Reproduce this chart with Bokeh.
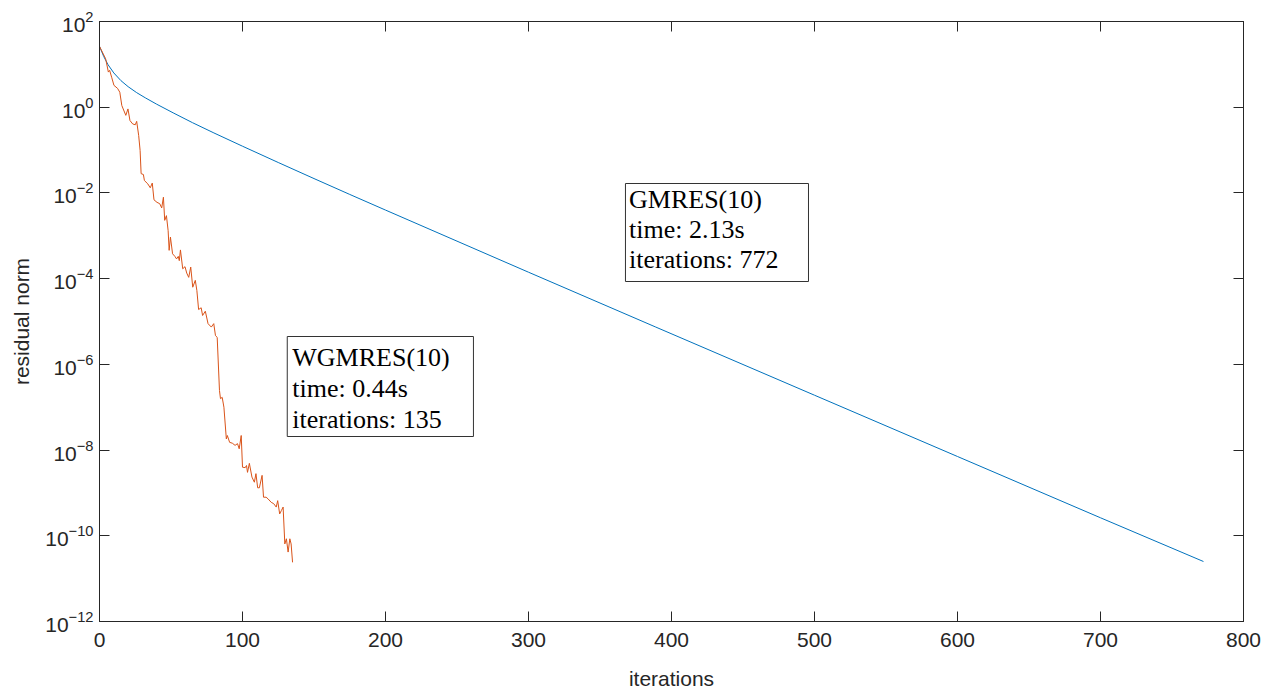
import numpy as np
from bokeh.plotting import figure
from bokeh.models import (LinearAxis, LogAxis, FixedTicker, BoxAnnotation, Label,
                          CustomJSTickFormatter)
from bokeh.embed import file_html
from bokeh.resources import INLINE

# ---------------- data ----------------
x_ticks = [0, 100, 200, 300, 400, 500, 600, 700, 800]
y_ticks = [1e-12, 1e-10, 1e-8, 1e-6, 1e-4, 1e-2, 1e0, 1e2]

# GMRES(10): iteration, log10(residual norm)
gmres_iter = [0, 3, 6, 10, 15, 20, 26, 32, 40, 52, 65, 80, 100, 125, 150,
              175, 200, 250, 300, 389, 500, 600, 700, 772]
gmres_log10_res = [1.42, 1.18, 0.99, 0.80, 0.62, 0.48, 0.34, 0.22, 0.07, -0.14,
                   -0.36, -0.60, -0.91, -1.29, -1.665, -2.035, -2.40, -3.125, -3.85,
                   -5.13, -6.72, -8.15, -9.58, -10.60]

# WGMRES(10): iteration, log10(residual norm)
wgmres_iter = [0, 4.3, 6.2, 7.1, 8.5, 10.1, 12.6, 14.2, 15.6, 18.4, 19.9, 21.3,
               23.2, 25.0, 26.0, 27.4, 28.4, 29.1, 30.7, 31.4, 33.8, 35.5, 36.9,
               38.1, 40.2, 42.1, 43.5, 44.7, 45.6, 46.8, 48.0, 48.7, 49.6, 51.1,
               52.7, 53.9, 55.1, 55.8, 56.6, 58.2, 59.8, 61.0, 62.4, 63.8, 65.2,
               67.0, 68.1, 69.3, 71.1, 72.1, 74.0, 75.9, 78.2, 79.9, 81.1, 82.3,
               83.9, 84.6, 85.8, 87.0, 88.7, 89.4, 91.0, 92.9, 94.8, 96.5, 97.7,
               99.1, 100.0, 101.9, 102.8, 103.5, 104.8, 106.6, 108.3, 109.4,
               110.6, 111.8, 113.7, 114.7, 116.5, 117.9, 120.1, 121.8, 123.6,
               124.6, 126.0, 127.2, 128.4, 129.6, 130.7, 131.9, 133.1, 134.0, 135.0]
wgmres_log10_res = [1.42, 1.13, 0.82, 0.86, 0.70, 0.51, 0.44, 0.35, 0.04, -0.19,
                    -0.04, -0.31, -0.39, -0.41, -0.33, -0.66, -1.01, -1.55, -1.57,
                    -1.71, -1.79, -1.88, -1.77, -2.16, -2.22, -2.25, -2.35, -2.10,
                    -2.64, -2.53, -2.88, -3.34, -3.03, -3.42, -3.48, -3.54, -3.48,
                    -3.58, -3.33, -3.77, -3.72, -3.87, -3.97, -3.73, -4.20, -4.04,
                    -4.28, -4.72, -4.68, -4.86, -4.76, -5.05, -5.13, -5.05, -5.33,
                    -5.37, -6.61, -6.80, -6.77, -7.00, -7.74, -7.66, -7.82, -7.84,
                    -7.89, -7.85, -7.97, -7.66, -8.40, -8.41, -8.36, -8.52, -8.31,
                    -8.63, -8.75, -8.55, -8.88, -8.88, -8.59, -9.10, -9.10, -9.14,
                    -9.22, -9.25, -9.33, -9.18, -9.49, -9.41, -9.33, -10.19, -10.07,
                    -10.38, -10.07, -10.19, -10.62]

gmres_text = ["GMRES(10)", "time: 2.13s", "iterations: 772"]
wgmres_text = ["WGMRES(10)", "time: 0.44s", "iterations: 135"]

# ---------------- figure ----------------
AX = "#262626"
p = figure(width=1266, height=693, y_axis_type="log",
           x_range=(0, 800), y_range=(1e-12, 1e2),
           output_backend="svg", toolbar_location=None,
           min_border_left=99, min_border_right=23,
           min_border_top=21, min_border_bottom=72)
p.xgrid.visible = False
p.ygrid.visible = False
p.outline_line_color = AX
p.background_fill_color = "white"
p.border_fill_color = "white"

def style_axis(ax, ticks):
    ax.ticker = FixedTicker(ticks=ticks, minor_ticks=[])
    ax.axis_line_color = AX
    ax.major_tick_line_color = AX
    ax.major_tick_in = 10
    ax.major_tick_out = 0
    ax.minor_tick_line_color = None
    ax.major_label_text_color = AX
    ax.major_label_text_font = "Liberation Sans"
    ax.major_label_text_font_size = "21px"
    ax.axis_label_text_font = "Liberation Sans"
    ax.axis_label_text_font_size = "21px"
    ax.axis_label_text_font_style = "normal"
    ax.axis_label_text_color = AX

style_axis(p.xaxis[0], x_ticks)
style_axis(p.yaxis[0], y_ticks)
p.xaxis[0].axis_label = "iterations"
p.yaxis[0].axis_label = "residual norm"
p.xaxis[0].major_label_standoff = 11
p.yaxis[0].major_label_standoff = 6
p.xaxis[0].axis_label_standoff = 17
p.yaxis[0].axis_label_standoff = 9

# box-style frame: unlabeled axes on top and right, ticks pointing in
blank = CustomJSTickFormatter(code="return ' ';")
top_ax = LinearAxis()
style_axis(top_ax, x_ticks)
top_ax.formatter = blank
top_ax.major_label_text_color = None
top_ax.major_label_standoff = 0
p.add_layout(top_ax, "above")
right_ax = LogAxis()
style_axis(right_ax, y_ticks)
right_ax.formatter = blank
right_ax.major_label_text_color = None
right_ax.major_label_standoff = 0
p.add_layout(right_ax, "right")

# ---------------- lines ----------------
p.line(gmres_iter, 10.0 ** np.array(gmres_log10_res), line_color="#0072BD", line_width=1)
p.line(wgmres_iter, 10.0 ** np.array(wgmres_log10_res), line_color="#D95319", line_width=1)

# ---------------- text boxes ----------------
def text_box(left, right, top, bottom, tx, baselines, lines):
    p.add_layout(BoxAnnotation(left=left, right=right, top=top, bottom=bottom,
                               fill_color="white", fill_alpha=1.0,
                               line_color="#333333", line_width=1, line_alpha=1.0))
    for yb, t in zip(baselines, lines):
        p.add_layout(Label(x=tx, y=yb, text=t, text_font="Liberation Serif",
                           text_font_size="26px", text_color="black",
                           text_baseline="alphabetic", text_align="left"))

def ylog(py):
    # helper: convert a pixel row of the 600 px tall frame to a log-axis value
    return 10 ** (2 - (py - 21) / (600 / 14))

text_box(367.8, 495.8, ylog(183), ylog(281), 370.3,
         [ylog(199), ylog(229), ylog(259)], gmres_text)
text_box(131.3, 261.5, ylog(336), ylog(436), 134.8,
         [ylog(357), ylog(388), ylog(419)], wgmres_text)

open("out.html", "w").write(file_html(p, INLINE))
